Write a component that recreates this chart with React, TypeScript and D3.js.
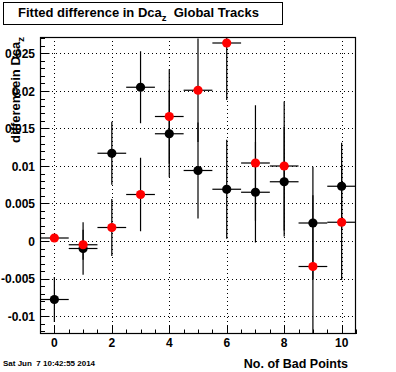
import * as d3 from 'd3';
import * as React from 'react';

// number of bad points on the x axis
const badPoints = [0, 1, 2, 3, 4, 5, 6, 7, 8, 9, 10];

// black series
const blackValues = [-0.0078, -0.001, 0.0117, 0.0205, 0.0143, 0.0094, 0.0069, 0.0065, 0.0079, 0.0024, 0.0073];
const blackErrors = [0.003, 0.0035, 0.0042, 0.0048, 0.0058, 0.0064, 0.0066, 0.0067, 0.0073, 0.0075, 0.0058];

// red series
const redValues = [0.0004, -0.0005, 0.0018, 0.0062, 0.0166, 0.0201, 0.0264, 0.0104, 0.01, -0.0034, 0.0025];
const redErrors = [0.0004, 0.002, 0.0038, 0.0049, 0.0063, 0.0069, 0.0076, 0.0077, 0.0086, 0.0095, 0.0077];

const xHalfWidth = 0.5;

const xTickLabels = [0, 2, 4, 6, 8, 10];
const yTickLabels = [-0.01, -0.005, 0, 0.005, 0.01, 0.015, 0.02, 0.025];

const width = 396;
const height = 372;
const frame = {left: 40, right: 356, top: 37, bottom: 334};
const font = '"Liberation Sans", Arial, Helvetica, sans-serif';

const fmt = (v: number) => (Math.abs(v) < 1e-9 ? '0' : String(+v.toFixed(3)));

export default function App() {
    const x = d3.scaleLinear().domain([-0.5, 10.5]).range([frame.left, frame.right]);
    const y = d3.scaleLinear().domain([-0.0124, 0.0272]).range([frame.bottom, frame.top]);

    const xMinor = d3.range(-0.5, 10.5001, 0.5).filter((t) => !xTickLabels.includes(t));
    const yMinor = d3.range(-12, 28, 1).filter((t) => t % 5 !== 0).map((t) => t / 1000);

    const series = (values: number[], errors: number[], color: string, key: string) => (
        <g key={key}>
            <g clipPath='url(#frameClip)' stroke='black' strokeWidth={1.2}>
                {badPoints.map((b, i) => (
                    <g key={i}>
                        <line x1={x(b - xHalfWidth)} x2={x(b + xHalfWidth)} y1={y(values[i])} y2={y(values[i])} />
                        <line x1={x(b)} x2={x(b)} y1={y(values[i] - errors[i])} y2={y(values[i] + errors[i])} />
                    </g>
                ))}
            </g>
            {badPoints.map((b, i) => (
                <circle key={i} cx={x(b)} cy={y(values[i])} r={4.6} fill={color} />
            ))}
        </g>
    );

    return (
        <svg width={width} height={height} style={{display: 'block', background: 'white'}}>
            <style>{'body{margin:0}'}</style>
            <defs>
                <clipPath id='frameClip'>
                    <rect x={frame.left} y={frame.top} width={frame.right - frame.left} height={frame.bottom - frame.top} />
                </clipPath>
            </defs>

            {/* title box */}
            <rect x={3.5} y={2.5} width={279} height={22} fill='white' stroke='black' strokeWidth={1} />
            <text x={18} y={17} fontFamily={font} fontWeight='bold' fontSize={13}>
                Fitted difference in Dca<tspan fontSize={9.5} dy={4}>z</tspan><tspan dy={-4}>{'\u00a0\u00a0'}Global Tracks</tspan>
            </text>

            {/* grid */}
            <g stroke='black' strokeWidth={1} strokeDasharray='1,3'>
                {xTickLabels.map((t) => (
                    <line key={t} x1={Math.round(x(t)) + 0.5} x2={Math.round(x(t)) + 0.5} y1={frame.top} y2={frame.bottom} />
                ))}
                {yTickLabels.map((t) => (
                    <line key={t} x1={frame.left} x2={frame.right} y1={Math.round(y(t)) + 0.5} y2={Math.round(y(t)) + 0.5} />
                ))}
            </g>

            {series(blackValues, blackErrors, 'black', 'black')}
            {series(redValues, redErrors, '#ff0000', 'red')}

            {/* frame */}
            <rect x={frame.left + 0.5} y={frame.top + 0.5} width={frame.right - frame.left - 1} height={frame.bottom - frame.top - 1} fill='none' stroke='black' strokeWidth={1.2} />

            {/* ticks */}
            <g stroke='black' strokeWidth={1}>
                {xTickLabels.map((t) => (
                    <line key={t} x1={Math.round(x(t)) + 0.5} x2={Math.round(x(t)) + 0.5} y1={frame.bottom} y2={frame.bottom - 9} />
                ))}
                {xMinor.map((t) => (
                    <line key={t} x1={Math.round(x(t)) + 0.5} x2={Math.round(x(t)) + 0.5} y1={frame.bottom} y2={frame.bottom - 4.5} />
                ))}
                {yTickLabels.map((t) => (
                    <line key={t} x1={frame.left} x2={frame.left + 9.5} y1={Math.round(y(t)) + 0.5} y2={Math.round(y(t)) + 0.5} />
                ))}
                {yMinor.map((t) => (
                    <line key={t} x1={frame.left} x2={frame.left + 5} y1={Math.round(y(t)) + 0.5} y2={Math.round(y(t)) + 0.5} />
                ))}
            </g>

            {/* tick labels */}
            <g fontFamily={font} fontWeight='bold' fontSize={12}>
                {xTickLabels.map((t) => (
                    <text key={t} x={x(t)} y={347} textAnchor='middle'>{t}</text>
                ))}
                {yTickLabels.map((t) => (
                    <text key={t} x={35} y={y(t) + 4.5} textAnchor='end'>{fmt(t)}</text>
                ))}
            </g>

            {/* axis titles */}
            <text x={348} y={368} textAnchor='end' fontFamily={font} fontWeight='bold' fontSize={12.5}>No. of Bad Points</text>
            <text transform={`translate(20,${frame.top}) rotate(-90)`} textAnchor='end' fontFamily={font} fontWeight='bold' fontSize={13}>
                differencein Dca<tspan fontSize={9.5} dy={4}>z</tspan>
            </text>

            <text x={3} y={366} fontFamily={font} fontWeight='bold' fontSize={8} style={{whiteSpace: 'pre'}}>Sat Jun  7 10:42:55 2014</text>
        </svg>
    );
}
